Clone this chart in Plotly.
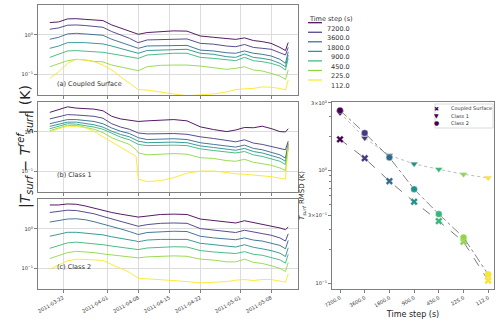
import plotly.graph_objects as go

# ---------------- data ----------------
DATES = ["2011-03-19", "2011-03-21", "2011-03-23", "2011-03-25", "2011-03-27", "2011-03-29",
         "2011-03-31", "2011-04-02", "2011-04-04", "2011-04-06", "2011-04-07 12:00", "2011-04-08",
         "2011-04-10", "2011-04-13", "2011-04-16", "2011-04-19", "2011-04-22", "2011-04-25",
         "2011-04-28", "2011-04-30", "2011-05-02", "2011-05-04", "2011-05-06", "2011-05-08",
         "2011-05-10", "2011-05-11 06:00", "2011-05-11 21:00"]

TIME_STEPS = ["7200.0", "3600.0", "1800.0", "900.0", "450.0", "225.0", "112.0"]

# (a) Coupled Surface
A_7200 = [2.07, 2.15, 2.57, 2.6, 2.5, 2.43, 2.33, 1.8, 1.48, 1.27, 1.08, 1.04, 1.15, 1.22, 1.27, 1.25, 0.94, 0.87, 0.79, 0.77, 0.84, 0.72, 0.675, 0.61, 0.48, 0.40, 0.64]
A_3600 = [1.40, 1.51, 1.77, 1.8, 1.74, 1.64, 1.57, 1.22, 1.0, 0.82, 0.67, 0.636, 0.745, 0.77, 0.79, 0.79, 0.61, 0.58, 0.52, 0.50, 0.57, 0.48, 0.455, 0.43, 0.35, 0.307, 0.48]
A_1800 = [0.774, 0.87, 1.06, 1.10, 1.06, 1.02, 0.98, 0.774, 0.65, 0.554, 0.48, 0.455, 0.522, 0.53, 0.54, 0.54, 0.41, 0.39, 0.35, 0.34, 0.39, 0.34, 0.32, 0.29, 0.238, 0.188, 0.37]
A_900 = [0.455, 0.52, 0.636, 0.65, 0.636, 0.61, 0.59, 0.52, 0.45, 0.39, 0.355, 0.34, 0.40, 0.41, 0.43, 0.43, 0.34, 0.32, 0.278, 0.267, 0.326, 0.267, 0.252, 0.229, 0.188, 0.154, 0.307]
A_450 = [0.267, 0.32, 0.39, 0.397, 0.39, 0.374, 0.36, 0.33, 0.30, 0.28, 0.26, 0.252, 0.307, 0.33, 0.34, 0.34, 0.267, 0.252, 0.229, 0.22, 0.267, 0.22, 0.207, 0.188, 0.16, 0.127, 0.252]
A_225 = [0.154, 0.188, 0.22, 0.238, 0.229, 0.21, 0.205, 0.17, 0.154, 0.14, 0.126, 0.122, 0.154, 0.167, 0.17, 0.17, 0.16, 0.146, 0.132, 0.14, 0.154, 0.127, 0.12, 0.104, 0.089, 0.073, 0.127]
A_112 = [0.077, 0.115, 0.188, 0.238, 0.229, 0.207, 0.17, 0.127, 0.0855, 0.058, 0.044, 0.040, 0.039, 0.034, 0.031, 0.028, 0.029, 0.031, 0.035, 0.040, 0.042, 0.043, 0.047, 0.046, 0.043, 0.039, 0.070]

# (b) Class 1
B_7200 = [3.16, 3.69, 4.38, 4.06, 3.98, 3.83, 3.48, 2.51, 2.15, 2.03, 1.9, 1.85, 1.92, 2.03, 2.07, 1.92, 1.35, 1.15, 1.02, 1.12, 1.30, 1.28, 1.40, 1.22, 1.02, 1.0, 1.21]
B_3600 = [2.15, 2.46, 2.77, 2.71, 2.61, 2.51, 2.24, 1.62, 1.33, 1.17, 0.99, 0.94, 0.89, 0.91, 0.91, 0.87, 0.75, 0.68, 0.60, 0.56, 0.63, 0.52, 0.48, 0.42, 0.38, 0.35, 0.58]
B_1800 = [1.62, 1.85, 2.07, 2.07, 1.96, 1.85, 1.62, 1.26, 1.04, 0.91, 0.76, 0.71, 0.64, 0.655, 0.67, 0.64, 0.53, 0.48, 0.43, 0.41, 0.46, 0.38, 0.35, 0.30, 0.26, 0.215, 0.51]
B_900 = [1.39, 1.58, 1.78, 1.78, 1.68, 1.52, 1.33, 1.04, 0.86, 0.75, 0.62, 0.58, 0.53, 0.54, 0.55, 0.53, 0.44, 0.40, 0.355, 0.34, 0.38, 0.316, 0.29, 0.25, 0.215, 0.178, 0.46]
B_450 = [1.21, 1.41, 1.62, 1.58, 1.47, 1.33, 1.17, 0.91, 0.736, 0.63, 0.52, 0.48, 0.447, 0.455, 0.46, 0.447, 0.37, 0.335, 0.30, 0.29, 0.316, 0.26, 0.237, 0.207, 0.178, 0.147, 0.42]
B_225 = [1.08, 1.28, 1.47, 1.47, 1.33, 1.17, 0.96, 0.71, 0.58, 0.48, 0.35, 0.29, 0.26, 0.27, 0.28, 0.27, 0.22, 0.21, 0.185, 0.178, 0.20, 0.168, 0.155, 0.141, 0.12, 0.104, 0.38]
B_112 = [1.0, 1.21, 1.39, 1.39, 1.28, 1.04, 0.75, 0.56, 0.40, 0.30, 0.237, 0.062, 0.054, 0.057, 0.068, 0.088, 0.10, 0.10, 0.092, 0.085, 0.083, 0.08, 0.077, 0.072, 0.066, 0.062, 0.46]

# (c) Class 2
C_7200 = [4.1, 4.1, 4.35, 4.27, 3.87, 3.38, 2.96, 2.63, 2.39, 2.21, 2.09, 2.01, 2.13, 2.34, 2.39, 2.34, 1.79, 1.65, 1.47, 1.42, 1.62, 1.47, 1.34, 1.21, 1.06, 0.96, 1.12]
C_3600 = [2.63, 2.84, 3.01, 2.95, 2.73, 2.44, 2.09, 1.82, 1.56, 1.36, 1.21, 1.17, 1.29, 1.39, 1.42, 1.39, 1.02, 0.94, 0.84, 0.81, 0.925, 0.82, 0.76, 0.69, 0.59, 0.49, 0.75]
C_1800 = [1.50, 1.65, 1.79, 1.82, 1.72, 1.53, 1.34, 1.17, 1.0, 0.857, 0.763, 0.72, 0.81, 0.857, 0.874, 0.857, 0.65, 0.59, 0.54, 0.53, 0.59, 0.52, 0.49, 0.44, 0.38, 0.31, 0.51]
C_900 = [0.65, 0.72, 0.82, 0.82, 0.79, 0.763, 0.706, 0.63, 0.58, 0.54, 0.49, 0.47, 0.52, 0.54, 0.55, 0.54, 0.43, 0.395, 0.35, 0.345, 0.395, 0.34, 0.31, 0.28, 0.24, 0.197, 0.33]
C_450 = [0.32, 0.38, 0.44, 0.46, 0.44, 0.42, 0.395, 0.365, 0.345, 0.32, 0.30, 0.296, 0.326, 0.345, 0.35, 0.345, 0.28, 0.258, 0.239, 0.235, 0.263, 0.225, 0.213, 0.186, 0.162, 0.134, 0.225]
C_225 = [0.175, 0.213, 0.248, 0.268, 0.263, 0.248, 0.23, 0.217, 0.205, 0.197, 0.186, 0.182, 0.193, 0.2, 0.205, 0.2, 0.169, 0.16, 0.144, 0.144, 0.169, 0.14, 0.131, 0.115, 0.098, 0.082, 0.14]
C_112 = [0.094, 0.119, 0.153, 0.169, 0.169, 0.162, 0.156, 0.126, 0.098, 0.078, 0.062, 0.055, 0.053, 0.051, 0.048, 0.045, 0.042, 0.0435, 0.045, 0.049, 0.051, 0.048, 0.051, 0.051, 0.045, 0.0435, 0.0705]

# right panel: RMSD vs time step
RMSD_COUPLED = [1.90, 1.29, 0.807, 0.530, 0.357, 0.234, 0.106]
RMSD_CLASS1 = [3.27, 1.95, 1.37, 1.15, 1.03, 0.93, 0.864]
RMSD_CLASS2 = [3.43, 2.16, 1.31, 0.686, 0.412, 0.256, 0.120]

DATE_TICKS = ["2011-03-22", "2011-04-01", "2011-04-08", "2011-04-15", "2011-04-22", "2011-05-01", "2011-05-08"]
PANEL_TITLES = ["(a) Coupled Surface", "(b) Class 1", "(c) Class 2"]

# ---------------- style ----------------
VIRIDIS7 = ["#440154", "#443983", "#31688e", "#21918c", "#35b779", "#90d743", "#fde725"]
FONT = "DejaVu Sans"
W, H = 500, 319


def px(x):
    return x / W


def py(y):
    return 1 - y / H


panels = [
    [A_7200, A_3600, A_1800, A_900, A_450, A_225, A_112],
    [B_7200, B_3600, B_1800, B_900, B_450, B_225, B_112],
    [C_7200, C_3600, C_1800, C_900, C_450, C_225, C_112],
]
panel_ypix = [(5, 95), (102, 192), (199, 289)]
LEFT_X = (38, 298)

fig = go.Figure()

for p, series in enumerate(panels):
    ax = "" if p == 0 else str(p + 1)
    for i, vals in enumerate(series):
        fig.add_trace(go.Scatter(
            x=DATES, y=vals, mode="lines",
            line=dict(color=VIRIDIS7[i], width=0.9),
            xaxis="x" + ax, yaxis="y" + ax, showlegend=False,
            name=TIME_STEPS[i]))

# right panel
MK_LINE = dict(color="#dddddd", width=0.4)
fig.add_trace(go.Scatter(
    x=TIME_STEPS, y=RMSD_COUPLED, mode="lines+markers", xaxis="x4", yaxis="y4",
    line=dict(color="#555555", width=0.8, dash="dash"),
    marker=dict(symbol="x", size=6.5, color=VIRIDIS7, line=MK_LINE),
    showlegend=False, name="Coupled Surface"))
fig.add_trace(go.Scatter(
    x=TIME_STEPS, y=RMSD_CLASS1, mode="lines+markers", xaxis="x4", yaxis="y4",
    line=dict(color="#aaaaaa", width=0.8, dash="dot"),
    marker=dict(symbol="triangle-down", size=6.5, color=VIRIDIS7, line=MK_LINE),
    showlegend=False, name="Class 1"))
fig.add_trace(go.Scatter(
    x=TIME_STEPS, y=RMSD_CLASS2, mode="lines+markers", xaxis="x4", yaxis="y4",
    line=dict(color="#666666", width=0.8, dash="dashdot"),
    marker=dict(symbol="circle", size=6.5, color=VIRIDIS7, line=MK_LINE),
    showlegend=False, name="Class 2"))

axis_common = dict(showline=True, linecolor="#7f7f7f", linewidth=1, mirror=True,
                   ticks="outside", ticklen=3, tickcolor="#7f7f7f", automargin=False,
                   tickfont=dict(family=FONT, size=5, color="#333"), zeroline=False)

layout = dict(
    width=W, height=H, margin=dict(l=0, r=0, t=0, b=0, autoexpand=False),
    paper_bgcolor="white", plot_bgcolor="white",
    font=dict(family=FONT, color="#222"),
)

XRANGE = ["2011-03-16 08:00", "2011-05-14 02:00"]
for p in range(3):
    suf = "" if p == 0 else str(p + 1)
    y0, y1 = panel_ypix[p]
    layout["xaxis" + suf] = dict(
        axis_common, type="date", domain=[px(LEFT_X[0]), px(LEFT_X[1])],
        anchor="y" + suf, range=XRANGE, tickvals=DATE_TICKS,
        ticktext=DATE_TICKS, showticklabels=(p == 2), tickangle=-30,
        showgrid=True, gridcolor="#dcdcdc", gridwidth=1)
    layout["yaxis" + suf] = dict(
        axis_common, type="log", domain=[py(y1), py(y0)], anchor="x" + suf,
        range=[-1.535, 0.765], tickvals=[0.1, 1],
        ticktext=["10<sup>\u22121</sup>", "10<sup>0</sup>"],
        showgrid=True, gridcolor="#dcdcdc", gridwidth=1)

layout["xaxis4"] = dict(
    axis_common, type="category", domain=[px(332), px(494)], anchor="y4",
    range=[-0.324, 6.235], tickangle=-30, showgrid=False,
    title=dict(text="Time step (s)", font=dict(family=FONT, size=8, color="#222"), standoff=4))
layout["yaxis4"] = dict(
    axis_common, type="log", domain=[py(289), py(102)], anchor="x4",
    range=[-1.05, 0.61], showgrid=False,
    tickvals=[0.1, 0.4, 1, 4],
    ticktext=["10<sup>\u22121</sup>", "3\u00d710<sup>\u22121</sup>", "10<sup>0</sup>", "3\u00d710<sup>0</sup>"],
    minor=dict(ticks="outside", ticklen=2, tickcolor="#7f7f7f",
               tickvals=[0.2, 0.3, 0.5, 0.6, 0.7, 0.8, 0.9, 2, 3]),
    title=dict(text="<i>T<sub>surf</sub></i> RMSD (K)", font=dict(family=FONT, size=7, color="#222"), standoff=2))

fig.update_layout(**layout)

ann = []
shapes = []
# big y label
ann.append(dict(x=px(13), y=py(147), xref="paper", yref="paper", textangle=-90,
                text="|<i>T<sub>surf</sub></i> \u2212 <i>T<sup>ref</sup><sub>surf</sub></i>| (K)",
                showarrow=False, font=dict(family=FONT, size=14, color="#222")))
# panel labels
for p, (t, yy) in enumerate(zip(PANEL_TITLES, [78, 175, 273])):
    ann.append(dict(x=px(55), y=py(yy), xref="paper", yref="paper", text=t, xanchor="left",
                    showarrow=False, font=dict(family=FONT, size=6.5, color="#333")))
# time step legend (manual)
ann.append(dict(x=px(307), y=py(13), xref="paper", yref="paper", text="Time step (s)",
                xanchor="left", showarrow=False, font=dict(family=FONT, size=6.5, color="#333")))
for i, lab in enumerate(TIME_STEPS):
    yy = 22.7 + i * 9.55
    shapes.append(dict(type="line", xref="paper", yref="paper", x0=px(308), x1=px(322),
                       y0=py(yy), y1=py(yy), line=dict(color=VIRIDIS7[i], width=1.2)))
    ann.append(dict(x=px(352), y=py(yy), xref="paper", yref="paper", text=lab, xanchor="right",
                    showarrow=False, font=dict(family=FONT, size=6.5, color="#333")))
# right legend (manual)
shapes.append(dict(type="rect", xref="paper", yref="paper", x0=px(435), x1=px(493),
                   y0=py(128), y1=py(104), line=dict(color="#d0d0d0", width=0.8),
                   fillcolor="rgba(255,255,255,0.85)"))
for j, (sym, lab) in enumerate(zip(["\u2716", "\u25bc", "\u25cf"], ["Coupled Surface", "Class 1", "Class 2"])):
    yy = 108.3 + j * 7.3
    ann.append(dict(x=px(441), y=py(yy), xref="paper", yref="paper", text=sym,
                    showarrow=False, font=dict(family=FONT, size=6, color=VIRIDIS7[0])))
    ann.append(dict(x=px(449), y=py(yy), xref="paper", yref="paper", text=lab, xanchor="left",
                    showarrow=False, font=dict(family=FONT, size=5, color="#333")))

fig.update_layout(annotations=ann, shapes=shapes)
fig.write_html("out.html", config={"displayModeBar": False},
               post_script="document.body.style.margin='0px';")
